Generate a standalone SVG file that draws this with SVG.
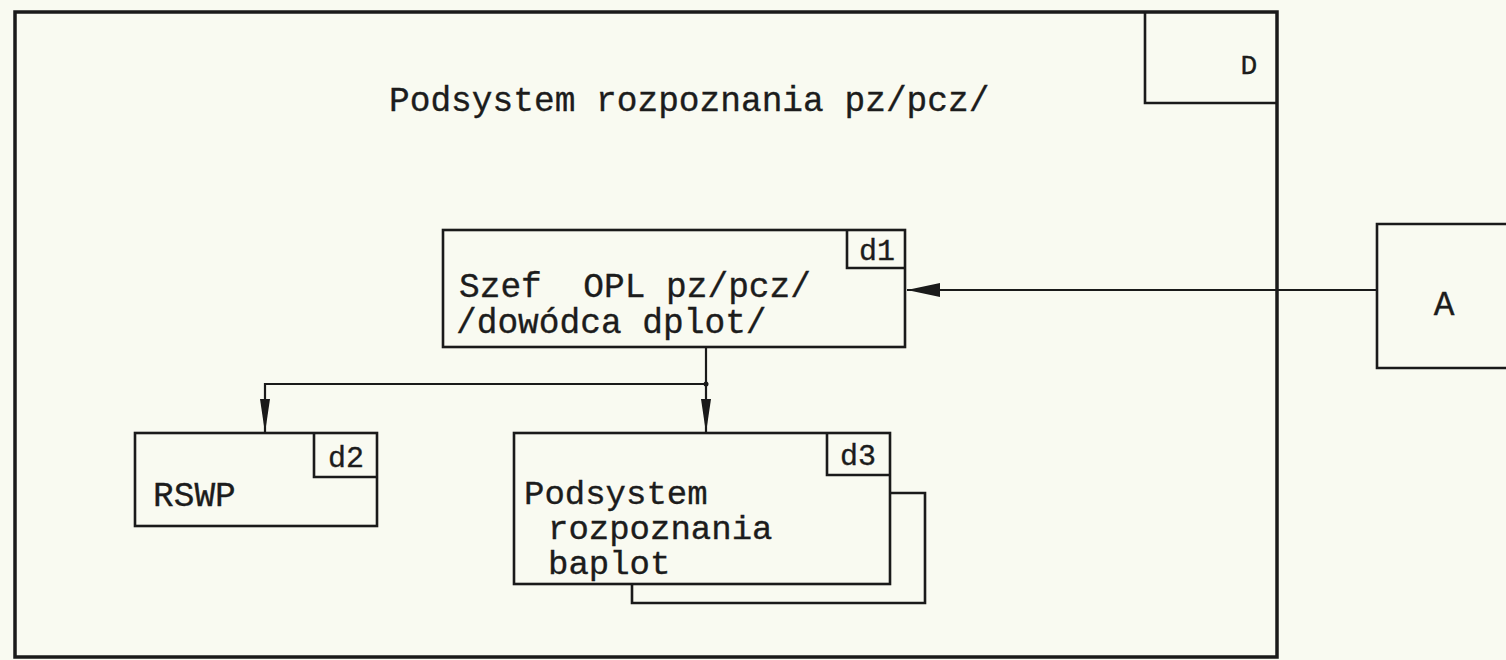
<svg xmlns="http://www.w3.org/2000/svg" width="1506" height="660" viewBox="0 0 1506 660">
<style>
.bg{fill:#f9faf1}
.frame{fill:none;stroke:#1a1a1a;stroke-width:3.5}
.box{fill:none;stroke:#1a1a1a;stroke-width:2.6}
.con{fill:none;stroke:#1a1a1a;stroke-width:2.2}
.t{font-family:"Liberation Mono","Courier New",monospace;fill:#1c1c1c;stroke:#1c1c1c;stroke-width:0.35}
.big{font-size:34.5px}
.d3t{font-size:34px}
.mid{font-size:28px}
.lbl{font-size:30px}
</style>
<defs>
<marker id="arrDown" markerUnits="userSpaceOnUse" markerWidth="36" markerHeight="14" refX="34" refY="6" orient="auto">
<path d="M0,1 L34,6 L0,11 Z" fill="#1a1a1a"/>
</marker>
<marker id="arrLeft" markerUnits="userSpaceOnUse" markerWidth="36" markerHeight="18" refX="33" refY="8" orient="auto">
<path d="M0,1 L33,8 L0,15 Z" fill="#1a1a1a"/>
</marker>
</defs>
<rect class="bg" x="0" y="0" width="1506" height="660"/>

<g id="D">
<rect class="frame" x="15" y="12" width="1262" height="645"/>
<path class="box" d="M1145,12 V103 H1277"/>
<text class="t mid" x="1249" y="74" text-anchor="middle">D</text>
<text class="t big" x="389" y="111">Podsystem rozpoznania pz/pcz/</text>
</g>

<g id="A">
<path class="box" d="M1510,224 H1377 V368 H1510"/>
<text class="t big" x="1444" y="315" text-anchor="middle">A</text>
</g>

<g id="d1">
<rect class="box" x="443" y="230" width="462" height="117"/>
<path class="box" d="M847,230 V268 H905"/>
<text class="t lbl" x="877" y="260" text-anchor="middle">d1</text>
<text class="t big" x="459" y="297" xml:space="preserve">Szef  OPL pz/pcz/</text>
<text class="t big" x="456" y="333">/dowódca dplot/</text>
</g>

<g id="d2">
<rect class="box" x="135" y="433" width="242" height="93"/>
<path class="box" d="M314,433 V477 H377"/>
<text class="t lbl" x="346" y="467" text-anchor="middle">d2</text>
<text class="t big" x="153" y="506">RSWP</text>
</g>

<g id="d3">
<path class="box" d="M890,493 H925 V603 H632 V584"/>
<rect class="box" x="514" y="433" width="376" height="151"/>
<path class="box" d="M827,433 V475 H890"/>
<text class="t lbl" x="858" y="465" text-anchor="middle">d3</text>
<text class="t d3t" x="524" y="504">Podsystem</text>
<text class="t d3t" x="548" y="539">rozpoznania</text>
<text class="t d3t" x="548" y="574">baplot</text>
</g>

<g id="connectors">
<path class="con" d="M1377,290 H907" marker-end="url(#arrLeft)"/>
<path class="con" d="M706,347 V384"/>
<path class="con" d="M706,384 H265 V433" marker-end="url(#arrDown)"/>
<path class="con" d="M706,384 V433" marker-end="url(#arrDown)"/>
<circle cx="706" cy="384" r="2.5" fill="#1a1a1a"/>
</g>
</svg>
